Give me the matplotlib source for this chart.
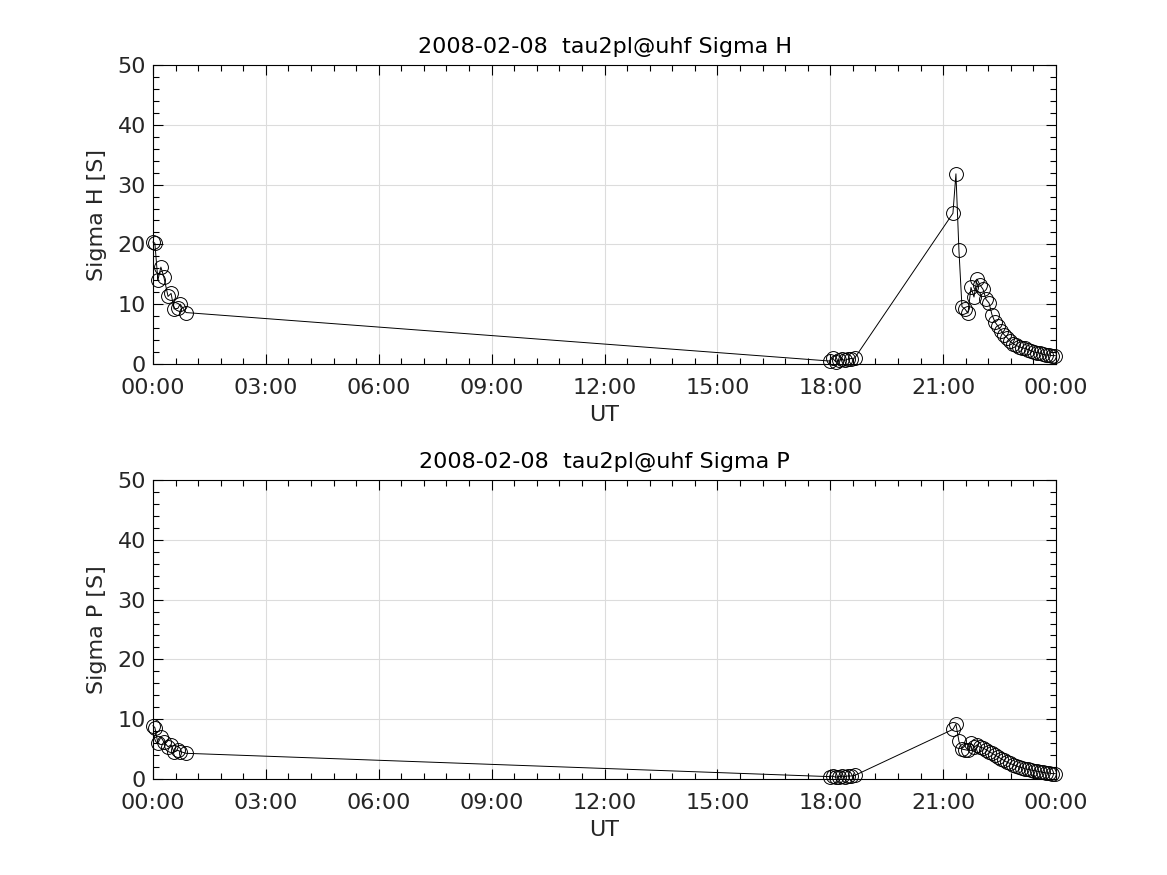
import numpy as np
import matplotlib
matplotlib.use("Agg")
import matplotlib.pyplot as plt
from matplotlib.ticker import MultipleLocator, FuncFormatter

# Zeit in Stunden (UT) und Leitfaehigkeiten
t_ut = [0.00, 0.05, 0.13, 0.21, 0.29, 0.40, 0.48, 0.56, 0.66, 0.72, 0.88,
        17.98, 18.06, 18.14, 18.22, 18.30, 18.38, 18.46, 18.54, 18.65,
        21.26, 21.34, 21.42, 21.50, 21.58, 21.66, 21.74, 21.82, 21.90, 21.98,
        22.06, 22.14, 22.22, 22.30, 22.38, 22.46, 22.54, 22.62, 22.70, 22.78,
        22.86, 22.94, 23.02, 23.10, 23.18, 23.26, 23.34, 23.42, 23.50, 23.58,
        23.66, 23.74, 23.82, 23.90, 23.98]

sigma_h = [20.4, 20.2, 14.0, 16.2, 14.5, 11.3, 11.8, 9.2, 9.3, 10.0, 8.6,
           0.5, 1.0, 0.4, 0.6, 0.8, 0.6, 0.8, 0.9, 1.0,
           25.2, 31.8, 19.0, 9.6, 9.2, 8.5, 12.8, 11.2, 14.2, 13.2,
           12.5, 10.8, 10.2, 8.2, 7.0, 6.3, 5.6, 4.9, 4.4, 3.8,
           3.4, 3.1, 2.9, 2.7, 2.6, 2.4, 2.2, 2.0, 1.9, 1.8,
           1.6, 1.5, 1.5, 1.4, 1.4]

sigma_p = [8.9, 8.6, 6.0, 7.0, 6.2, 5.4, 5.7, 4.5, 4.8, 4.6, 4.3,
           0.4, 0.5, 0.3, 0.4, 0.5, 0.4, 0.5, 0.5, 0.6,
           8.3, 9.2, 6.3, 5.0, 4.9, 4.8, 6.0, 5.3, 5.7, 5.3,
           5.2, 4.9, 4.6, 4.3, 4.0, 3.7, 3.4, 3.1, 2.8, 2.6,
           2.4, 2.2, 2.0, 1.9, 1.7, 1.6, 1.5, 1.4, 1.3, 1.2,
           1.1, 1.0, 1.0, 0.9, 0.9]

datum = "2008-02-08  tau2pl@uhf"


def hhmm(x, pos):
    return f"{int(round(x)) % 24:02d}:00"


def panel(ax, y, name):
    ax.plot(t_ut, y, color="black", lw=0.7, marker="o", ms=10,
            mfc="none", mec="black", mew=0.7, clip_on=False, zorder=3)
    ax.set_xlim(0, 24)
    ax.set_ylim(0, 50)
    ax.xaxis.set_major_locator(MultipleLocator(3))
    ax.xaxis.set_minor_locator(MultipleLocator(0.6))
    ax.xaxis.set_major_formatter(FuncFormatter(hhmm))
    ax.yaxis.set_major_locator(MultipleLocator(10))
    ax.yaxis.set_minor_locator(MultipleLocator(2))
    ax.tick_params(which="both", direction="in", top=True, right=True,
                   labelsize=16, colors="black")
    ax.tick_params(which="major", length=7, width=0.8)
    ax.tick_params(which="minor", length=4, width=0.8)
    ax.tick_params(axis="x", which="major", pad=10)
    ax.tick_params(axis="y", which="major", pad=5)
    for lbl in ax.get_xticklabels() + ax.get_yticklabels():
        lbl.set_color("#262626")
    ax.grid(True, which="major", color="#dcdcdc", lw=0.8)
    ax.set_axisbelow(True)
    for s in ax.spines.values():
        s.set_linewidth(0.8)
    ax.set_title(f"{datum} {name}", fontsize=16, pad=9)
    ax.set_xlabel("UT", fontsize=16, color="#262626", labelpad=5)
    ax.set_ylabel(f"{name} [S]", fontsize=16, color="#262626", labelpad=7.5)


fig = plt.figure(figsize=(11.67, 8.75), dpi=100)
ax1 = fig.add_axes([0.1311, 0.584, 0.7738, 0.3417])
ax2 = fig.add_axes([0.1311, 0.1097, 0.7738, 0.3417])

panel(ax1, sigma_h, "Sigma H")
panel(ax2, sigma_p, "Sigma P")

fig.savefig("out.png", dpi=100)
